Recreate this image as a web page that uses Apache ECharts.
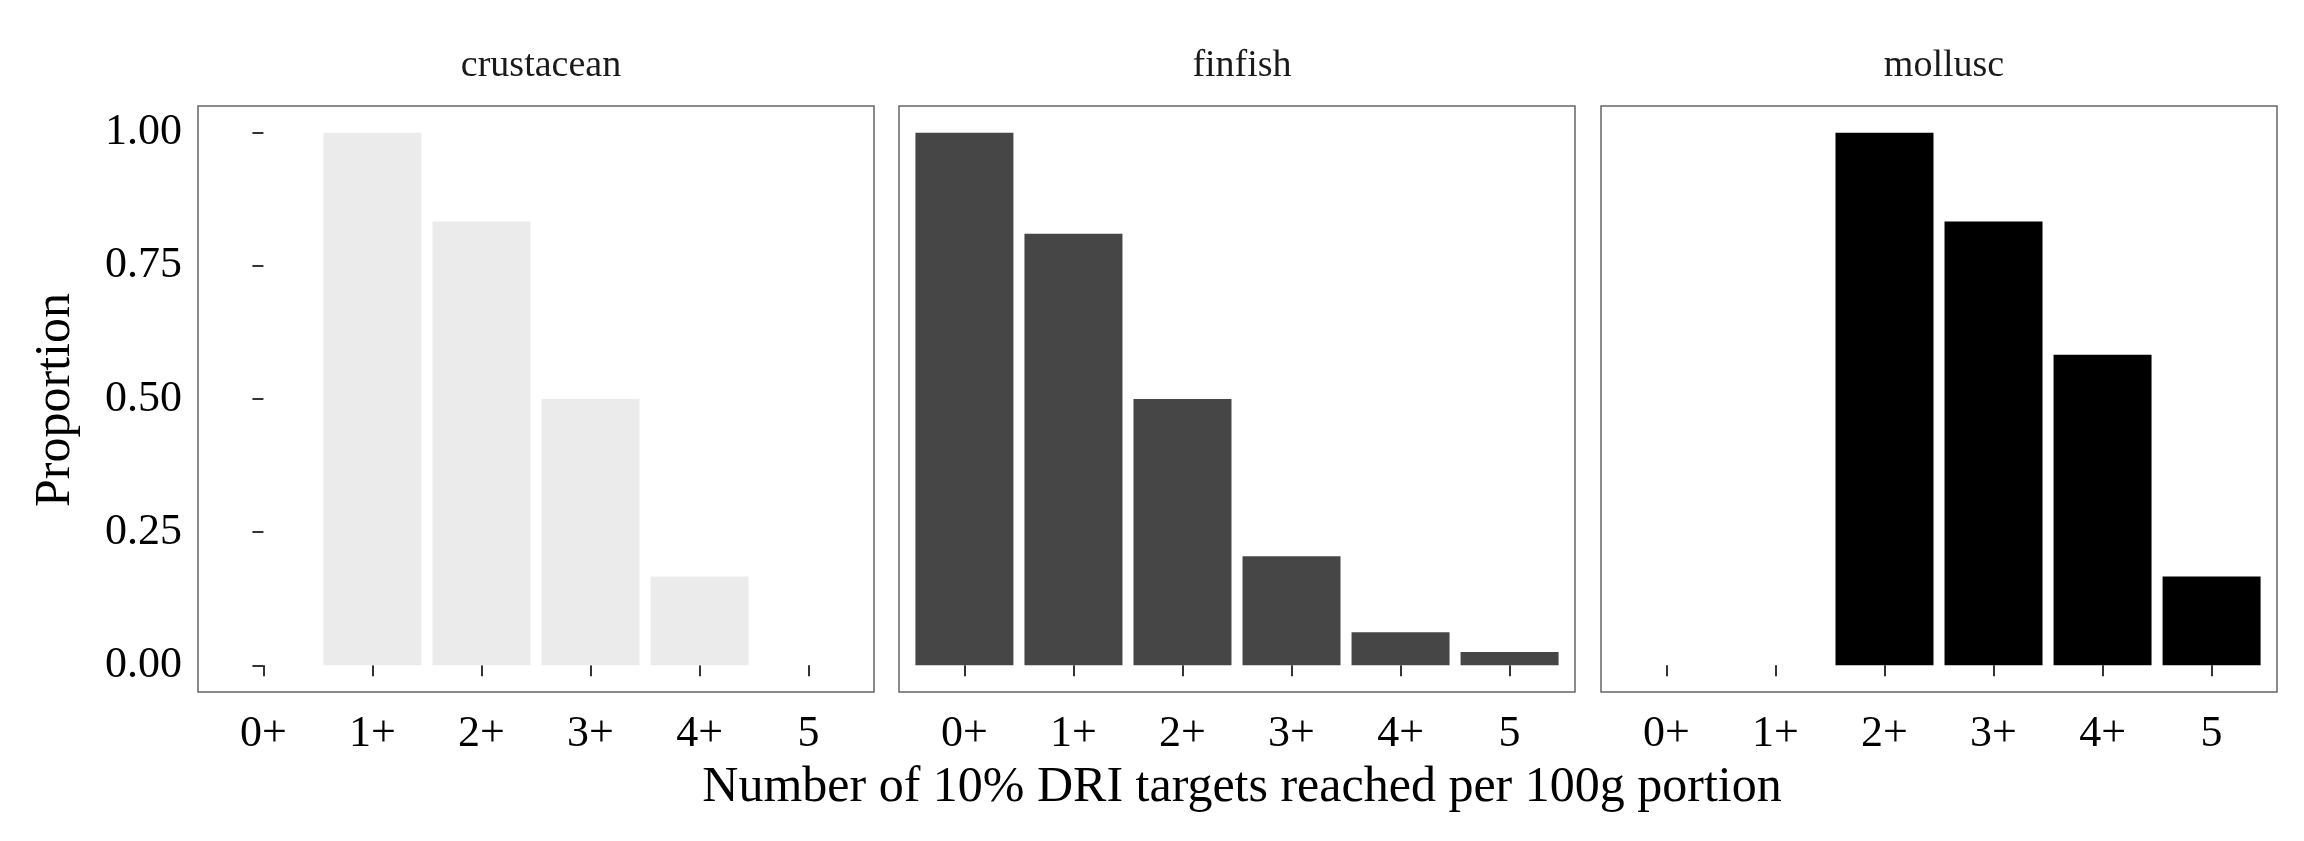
<!DOCTYPE html>
<html><head><meta charset="utf-8">
<script src="https://cdn.jsdelivr.net/npm/echarts@6/dist/echarts.min.js"></script>
<style>html,body{margin:0;background:#fff}#c{width:2304px;height:841px}</style>
</head><body><div id="c"></div>
<script>
var categories = ['0+', '1+', '2+', '3+', '4+', '5'];
var panels = ['crustacean', 'finfish', 'mollusc'];
var crustacean = [0, 1, 0.833, 0.5, 0.167, 0];
var finfish = [1, 0.81, 0.5, 0.205, 0.062, 0.025];
var mollusc = [0, 0, 1, 0.833, 0.583, 0.167];
var colors = ['#ebebeb', '#464646', '#000000'];
var yTicks = [0, 0.25, 0.5, 0.75, 1];

var values = [crustacean, finfish, mollusc];
var lefts = [198, 899, 1601];
var font = 'Liberation Serif';
var grids = [], xAxes = [], yAxes = [], series = [], titles = [];
panels.forEach(function (name, i) {
    grids.push({ left: lefts[i], top: 106, width: 676, height: 586, show: true,
        borderColor: '#666', borderWidth: 1.5, backgroundColor: '#fff' });
    xAxes.push({ type: 'value', gridIndex: i, min: -0.6, max: 5.6,
        axisLine: { show: false }, splitLine: { show: false },
        axisTick: { show: true, customValues: [0, 1, 2, 3, 4, 5], length: 11, lineStyle: { color: '#333', width: 2 } },
        axisLabel: { customValues: [0, 1, 2, 3, 4, 5], formatter: function (v) { return categories[Math.round(v)]; },
            fontFamily: font, fontSize: 44, color: '#000', margin: 20 } });
    yAxes.push({ type: 'value', gridIndex: i, min: -0.05, max: 1.05,
        axisLine: { show: false }, splitLine: { show: false },
        axisTick: { show: i === 0, customValues: yTicks, length: 11, lineStyle: { color: '#333', width: 2 } },
        axisLabel: { show: i === 0, customValues: yTicks, formatter: function (v) { return v.toFixed(2); },
            fontFamily: font, fontSize: 44, color: '#000', margin: 16 } });
    series.push({ type: 'bar', xAxisIndex: i, yAxisIndex: i, barWidth: 98,
        itemStyle: { color: colors[i] }, silent: true,
        data: values[i].map(function (v, k) { return [k, v]; }) });
    titles.push({ text: name, left: lefts[i] + 338, top: 42, textAlign: 'center',
        textStyle: { fontFamily: font, fontSize: 38, fontWeight: 'normal', color: '#1a1a1a' } });
});
titles.push({ text: 'Number of 10% DRI targets reached per 100g portion', left: 1237, top: 758, textAlign: 'center',
    textStyle: { fontFamily: font, fontSize: 50, fontWeight: 'normal', color: '#000' } });

var chart = echarts.init(document.getElementById('c'));
chart.setOption({
    animation: false,
    title: titles,
    grid: grids, xAxis: xAxes, yAxis: yAxes, series: series,
    graphic: [{ type: 'text', x: 56, y: 400, rotation: Math.PI / 2,
        style: { text: 'Proportion', font: '50px "Liberation Serif"', fill: '#000', align: 'center', verticalAlign: 'middle' } }]
});
</script></body></html>
